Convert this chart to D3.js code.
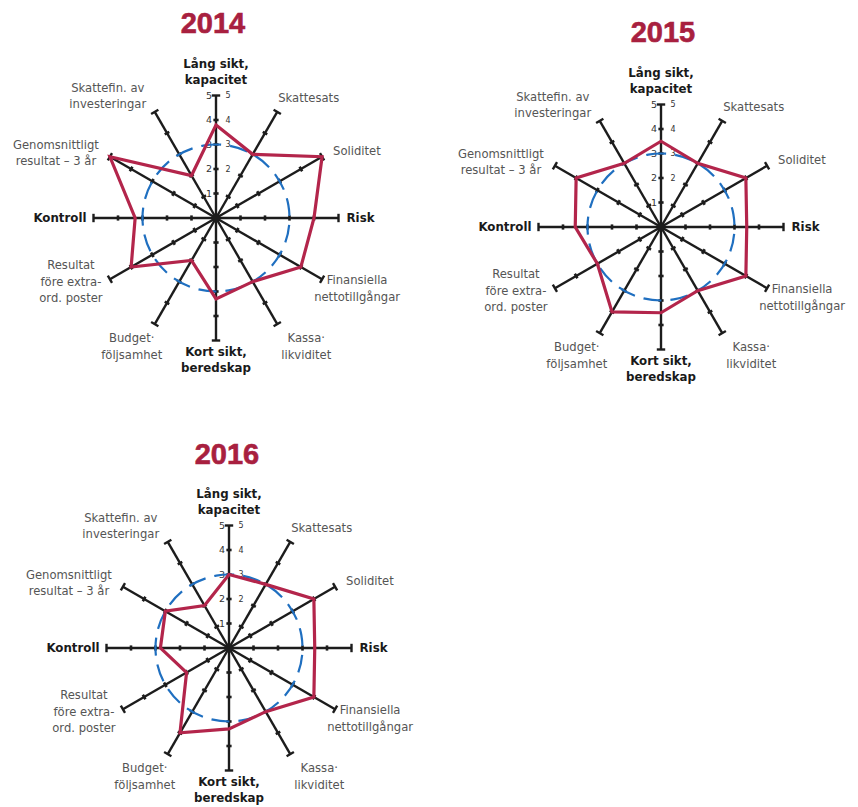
<!DOCTYPE html>
<html lang="sv">
<head>
<meta charset="utf-8">
<title>Nyckeltal 2014–2016</title>
<script src="https://cdn.jsdelivr.net/npm/d3@7"></script>
<style>
  html, body { margin: 0; padding: 0; background: #fff; }
  svg { display: block; }
  .title { font-family: "Liberation Sans", Arial, sans-serif; font-weight: bold; font-size: 29px; fill: #a8203f; }
  .lbl { font-family: "DejaVu Sans", sans-serif; font-size: 11.6px; fill: #555; }
  .lbl.main { font-weight: bold; fill: #1a1a1a; font-size: 11.8px; }
  .tick-num { font-family: "DejaVu Sans", sans-serif; fill: #333; }
</style>
</head>
<body>
<svg id="chart" width="858" height="807"></svg>
<script>
// Axis names, clockwise from 12 o'clock
const axisNames = [
  "Lång sikt,\nkapacitet",
  "Skattesats",
  "Soliditet",
  "Risk",
  "Finansiella\nnettotillgångar",
  "Kassa·\nlikviditet",
  "Kort sikt,\nberedskap",
  "Budget·\nföljsamhet",
  "Resultat\nföre extra-\nord. poster",
  "Kontroll",
  "Genomsnittligt\nresultat – 3 år",
  "Skattefin. av\ninvesteringar"
];
const mainAxes = ["Lång sikt,\nkapacitet", "Risk", "Kort sikt,\nberedskap", "Kontroll"];

const years = ["2014", "2015", "2016"];
const values2014 = [3.8, 3.0, 5.0, 4.0, 4.0, 3.0, 3.3, 2.0, 4.0, 3.3, 5.0, 2.0];
const values2015 = [3.5, 3.0, 4.0, 3.5, 4.0, 3.0, 3.5, 4.0, 3.0, 3.5, 4.0, 3.0];
const values2016 = [3.0, 3.0, 4.0, 3.5, 4.0, 3.0, 3.3, 4.0, 2.0, 2.8, 3.0, 2.0];
const seriesValues = [values2014, values2015, values2016];

const referenceLevel = 3;          // dashed reference ring
const tickValues = [1, 2, 3, 4, 5];
const leftTickLabels = ["1", "2", "3", "4", "5"];
const rightTickLabels = ["", "2", "3", "4", "5"];
const maxValue = 5;

// Panel placement
const panels = [
  { cx: 216, cy: 218, tx: 213, ty: 33 },
  { cx: 661, cy: 227, tx: 663, ty: 42 },
  { cx: 229, cy: 648, tx: 227, ty: 464 }
];

// Label offsets relative to each axis end: [anchor, dx, dy of first line]
const labelPlacement = [
  ["middle", 0, -32],
  ["start", 1, -14],
  ["start", 11, -6],
  ["start", 8, 0],
  ["middle", 35, 1],
  ["middle", 29, 14],
  ["middle", 0, 11],
  ["middle", -23, 14],
  ["middle", -39, -14],
  ["end", -7, 0],
  ["middle", -54, -12],
  ["middle", -47, -24]
];
const lineHeight = 16.5;

const svg = d3.select("#chart");
const r = d3.scaleLinear().domain([0, maxValue]).range([0, 122.5]);
const angle = d3.scaleLinear().domain([0, axisNames.length]).range([0, 2 * Math.PI]);

const pt = (i, v) => {
  const a = angle(i);
  return [Math.sin(a) * r(v), -Math.cos(a) * r(v)];
};

const radarLine = d3.lineRadial()
  .angle((d, i) => angle(i))
  .radius(d => r(d))
  .curve(d3.curveLinearClosed);

panels.forEach((p, k) => {
  svg.append("text")
    .attr("class", "title")
    .attr("x", p.tx).attr("y", p.ty)
    .attr("text-anchor", "middle")
    .attr("stroke", "#a8203f").attr("stroke-width", 0.6)
    .text(years[k]);

  const g = svg.append("g").attr("transform", `translate(${p.cx},${p.cy})`);

  // axes
  const axes = g.append("g").attr("class", "axes");
  axisNames.forEach((name, i) => {
    const a = angle(i);
    const ux = Math.sin(a), uy = -Math.cos(a);
    const nx = -uy, ny = ux;           // perpendicular
    const [ex, ey] = pt(i, maxValue);
    axes.append("line")
      .attr("x1", 0).attr("y1", 0).attr("x2", ex).attr("y2", ey)
      .attr("stroke", "#1c1c1c").attr("stroke-width", 2.4);
    tickValues.forEach(v => {
      const [tx, ty] = pt(i, v);
      const h = v === maxValue ? 4.2 : 2.6;
      axes.append("line")
        .attr("x1", tx - nx * h).attr("y1", ty - ny * h)
        .attr("x2", tx + nx * h).attr("y2", ty + ny * h)
        .attr("stroke", "#1c1c1c").attr("stroke-width", v === maxValue ? 2.4 : 2.6);
    });
  });
  // central hub
  g.append("circle").attr("r", 4.5).attr("fill", "#1c1c1c");

  // tick numbers along the vertical axis
  tickValues.forEach((v, j) => {
    const y = -r(v);
    g.append("text").attr("class", "tick-num")
      .attr("x", -7).attr("y", y).attr("dy", "0.35em")
      .attr("text-anchor", "middle").attr("font-size", 9.5)
      .text(leftTickLabels[j]);
    if (rightTickLabels[j]) {
      g.append("text").attr("class", "tick-num")
        .attr("x", 12).attr("y", y).attr("dy", "0.35em")
        .attr("text-anchor", "middle").attr("font-size", 8)
        .attr("fill", "#444")
        .text(rightTickLabels[j]);
    }
  });

  // reference ring
  g.append("circle")
    .attr("r", r(referenceLevel))
    .attr("fill", "none")
    .attr("stroke", "#1f6fc0")
    .attr("stroke-width", 2.2)
    .attr("stroke-dasharray", "18 9")
    .attr("transform", "rotate(-100)");

  // series polygon
  g.append("path")
    .datum(seriesValues[k])
    .attr("d", radarLine)
    .attr("fill", "none")
    .attr("stroke", "#b3254b")
    .attr("stroke-width", 3.2)
    .attr("stroke-linejoin", "miter");

  // axis labels
  axisNames.forEach((name, i) => {
    const [ex, ey] = pt(i, maxValue);
    const [anchor, dx, dy] = labelPlacement[i];
    const t = g.append("text")
      .attr("class", mainAxes.includes(name) ? "lbl main" : "lbl")
      .attr("text-anchor", anchor);
    name.split("\n").forEach((line, li) => {
      t.append("tspan")
        .attr("x", ex + dx)
        .attr("y", ey + dy + li * lineHeight)
        .attr("dy", "0.35em")
        .text(line);
    });
  });
});
</script>
</body>
</html>
